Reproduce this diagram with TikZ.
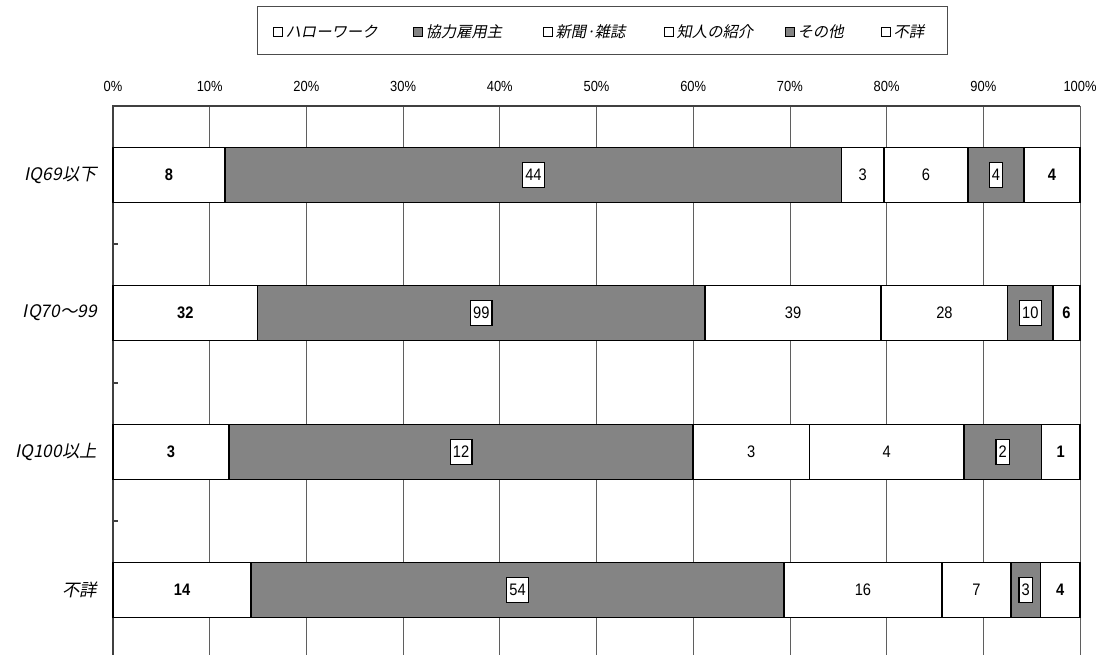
\documentclass[tikz,border=0pt]{standalone}
\usepackage{fontspec}
\setmainfont{Liberation Sans}
\newfontfamily\jpf[FakeSlant=0.2]{Noto Sans CJK JP}
\newfontfamily\numf[FakeStretch=0.88]{Liberation Sans}
\definecolor{dkfill}{RGB}{132,132,132}
\definecolor{gridc}{RGB}{95,95,95}
\newcommand\statbar[4]{%
  \gdef\cumv{0}%
  \foreach \v/\fc/\ls [count=\i] in {#4}{%
    \pgfmathsetmacro\xa{113+967*(\cumv/#3)}%
    \pgfmathsetmacro\nc{\cumv+\v}%
    \pgfmathsetmacro\xb{113+967*(\nc/#3)}%
    \pgfmathsetmacro\w{(\xb-\xa)*0.75}%
    \global\let\cumv\nc
    \node[seg, fill=\fc, minimum width=\w pt] (#1s\i) at ({(\xa+\xb)/2},#2) {};
    \node[\ls] (#1l\i) at (#1s\i.center) {\v};
  }%
}
\begin{document}
\begin{tikzpicture}[x=0.75pt,y=-0.75pt,
  seg/.style={draw=black, line width=1.1pt, inner sep=0pt, minimum height=41pt},
  bl/.style={font=\numf\bfseries\fontsize{12.5}{13}\selectfont, inner sep=0pt},
  nl/.style={font=\numf\fontsize{12.5}{13}\selectfont, inner sep=0pt},
  bx/.style={font=\numf\fontsize{12.5}{13}\selectfont, draw=black, fill=white, line width=0.9pt,
             inner xsep=2pt, inner ysep=0pt, minimum height=18.5pt},
  pct/.style={font=\numf\fontsize{11}{12}\selectfont, inner sep=0pt},
  cat/.style={font=\jpf\fontsize{13}{14}\selectfont, anchor=east, inner sep=0pt},
  lg/.style={font=\jpf\fontsize{11.5}{12}\selectfont, anchor=west, inner sep=0pt},
  mk/.style={draw=black, line width=1pt, inner sep=0pt, minimum size=7pt},
  gridl/.style={draw=gridc, line width=0.6pt},
  axisl/.style={draw=black!75, line width=0.9pt}]
\useasboundingbox (0,0) rectangle (1105,655);
\fill[white] (0,0) rectangle (1105,655);
% legend
\node[draw=black!70, line width=0.6pt, inner sep=0pt, minimum width=517.5pt, minimum height=36pt] (legend) at (602,30) {};
\node[mk, fill=white] (m1) at (278,32) {};
\node[lg] (t1) at ([xshift=1.5pt]m1.east) {ハローワーク};
\node[mk, fill=dkfill] (m2) at (418,32) {};
\node[lg] (t2) at ([xshift=1.5pt]m2.east) {協力雇用主};
\node[mk, fill=white] (m3) at (548,32) {};
\node[lg] (t3) at ([xshift=1.5pt]m3.east) {新聞·雑誌};
\node[mk, fill=white] (m4) at (669,32) {};
\node[lg] (t4) at ([xshift=1.5pt]m4.east) {知人の紹介};
\node[mk, fill=dkfill] (m5) at (790,32) {};
\node[lg] (t5) at ([xshift=1.5pt]m5.east) {その他};
\node[mk, fill=white] (m6) at (886,32) {};
\node[lg] (t6) at ([xshift=1.5pt]m6.east) {不詳};
% percent labels
\foreach \k [evaluate=\k as \t using int(10*\k)] in {0,...,10}
  \node[pct] (p\k) at (113+96.7*\k,86) {\t\%};
% grid
\foreach \k in {1,...,10}
  \draw[gridl] (113+96.7*\k,106) -- (113+96.7*\k,655);
\draw[axisl] (113,655) -- (113,106) -- (1080,106);
\foreach \yy in {244,383,521}
  \draw[axisl] (113,\yy) -- (118,\yy);
% bars
\statbar{ra}{175}{69}{8/white/bl,44/dkfill/bx,3/white/nl,6/white/nl,4/dkfill/bx,4/white/bl}
\statbar{rb}{313}{214}{32/white/bl,99/dkfill/bx,39/white/nl,28/white/nl,10/dkfill/bx,6/white/bl}
\statbar{rc}{452}{25}{3/white/bl,12/dkfill/bx,3/white/nl,4/white/nl,2/dkfill/bx,1/white/bl}
\statbar{rd}{590}{98}{14/white/bl,54/dkfill/bx,16/white/nl,7/white/nl,3/dkfill/bx,4/white/bl}
% category labels
\node[cat] (ca) at (97,175) {IQ69以下};
\node[cat] (cb) at (97,313) {IQ70～99};
\node[cat] (cc) at (97,452) {IQ100以上};
\node[cat] (cd) at (97,590) {不詳};
\end{tikzpicture}
\end{document}
